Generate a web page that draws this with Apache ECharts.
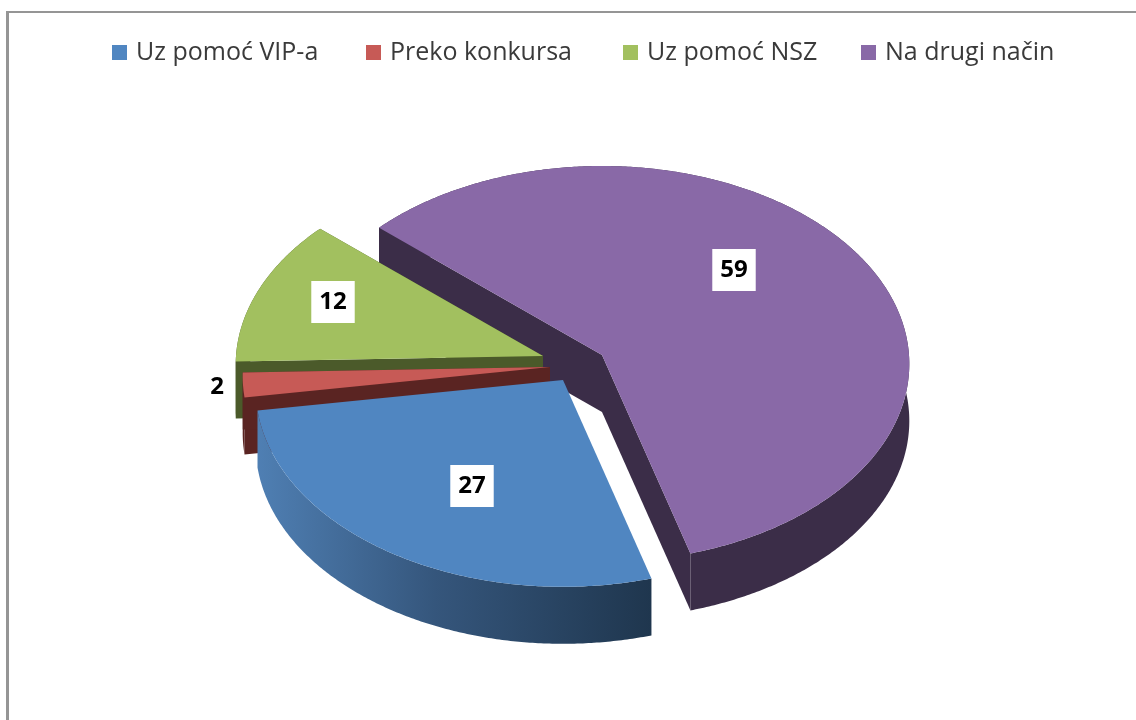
<!DOCTYPE html>
<html>
<head>
<meta charset="utf-8">
<style>html,body{margin:0;padding:0;background:#fff}#c{width:1136px;height:720px}</style>
<script src="https://cdn.jsdelivr.net/npm/echarts@6/dist/echarts.min.js"></script>
</head>
<body>
<div id="c"></div>
<script>
// Data
const categories = ['Uz pomoć VIP-a', 'Preko konkursa', 'Uz pomoć NSZ', 'Na drugi način'];
const values = [27, 2, 12, 59];

// Styling and layout
const topColors = ['#5086c1', '#c75a56', '#a2c05f', '#8969a7'];
const wallColors = [null, '#5a2422', '#4b5a2a', '#3b2d48'];
const explodedCenters = [[563, 380], [550, 367], [543, 356], [602, 355]];
const labelOffsets = [[-91, 106], [-333, 20], [-210, -54], [132, -85]];
const legendLefts = [107, 361, 618, 856];
const startAngle = 164;      // clockwise from 12 o'clock
const radius = 307;
const tilt = 0.6433;
const persp = 0.045;
const depth = 57;
const drawOrder = [3, 2, 1, 0];

const total = values.reduce((a, b) => a + b, 0);
function project(center, deg) {
  const t = deg * Math.PI / 180, u = Math.sin(t), v = -Math.cos(t), f = 1 / (1 - persp * v);
  return [center[0] + radius * u * f, center[1] + radius * tilt * v * f];
}
function renderSlice(i) {
  return function (params, api) {
    const before = values.slice(0, i).reduce((a, b) => a + b, 0);
    const a0 = startAngle + before / total * 360;
    const a1 = a0 + api.value(0) / total * 360;
    const c = explodedCenters[i];
    const arc = [];
    const n = Math.ceil((a1 - a0) * 2);
    for (let k = 0; k <= n; k++) arc.push(project(c, a0 + (a1 - a0) * k / n));
    const down = p => [p[0], p[1] + depth];
    const wallFill = i === 0
      ? new echarts.graphic.LinearGradient(0, 0, 1, 0, [
          { offset: 0, color: '#4f7fb3' },
          { offset: 0.45, color: '#35567c' },
          { offset: 1, color: '#1f364e' }])
      : wallColors[i];
    const children = [
      { type: 'polygon', shape: { points: arc.concat(arc.slice().reverse().map(down)) }, style: { fill: wallFill } }
    ];
    if (i !== 0) {
      children.push(
        { type: 'polygon', shape: { points: [c, arc[0], down(arc[0]), down(c)] }, style: { fill: wallColors[i] } },
        { type: 'polygon', shape: { points: [c, arc[n], down(arc[n]), down(c)] }, style: { fill: wallColors[i] } });
    }
    children.push(
      { type: 'polygon', shape: { points: [c].concat(arc) }, style: { fill: api.style().fill } },
      { type: 'text', z2: 10,
        x: c[0] + labelOffsets[i][0], y: c[1] + labelOffsets[i][1],
        style: { text: String(api.value(0)), fill: '#000', font: 'bold 24px "Open Sans"',
                 align: 'center', verticalAlign: 'middle', backgroundColor: '#fff', padding: [9, 8] } });
    return { type: 'group', children };
  };
}
const chart = echarts.init(document.getElementById('c'), null, { renderer: 'canvas' });
chart.setOption({
  animation: false,
  backgroundColor: '#fff',
  legend: categories.map((name, i) => ({
    data: [name], left: legendLefts[i], top: 35, itemWidth: 15, itemHeight: 15,
    icon: 'rect', selectedMode: false,
    textStyle: { fontFamily: '"Open Sans"', fontSize: 25, color: '#3a3a3a', padding: [0, 0, 0, 4] }
  })),
  graphic: [
    { type: 'line', shape: { x1: 6, y1: 12, x2: 1136, y2: 12 }, style: { stroke: '#959595', lineWidth: 2 } },
    { type: 'line', shape: { x1: 7.5, y1: 11, x2: 7.5, y2: 720 }, style: { stroke: '#959595', lineWidth: 3 } }
  ],
  series: drawOrder.map((i, k) => ({
    type: 'custom',
    name: categories[i],
    coordinateSystem: 'none',
    z: 2 + k,
    itemStyle: { color: topColors[i] },
    data: [[values[i]]],
    renderItem: renderSlice(i)
  }))
});
</script>
</body>
</html>
